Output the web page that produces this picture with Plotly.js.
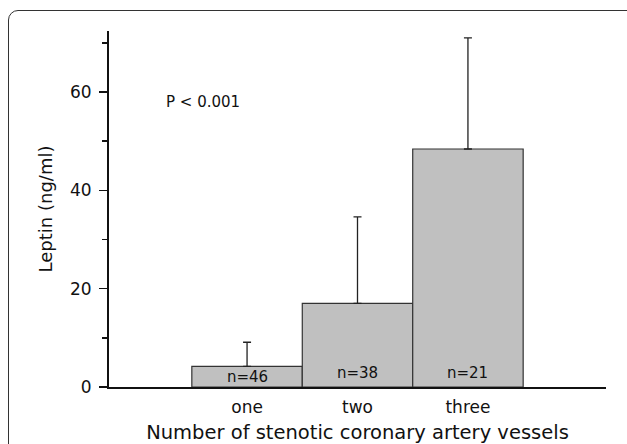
<!DOCTYPE html>
<html><head><meta charset="utf-8">
<script src="https://cdn.plot.ly/plotly-3.0.1.min.js"></script>
<style>
html,body{margin:0;padding:0;background:#fff;overflow:hidden;}
#wrap{position:relative;width:627px;height:444px;overflow:hidden;}
#chart{width:627px;height:444px;}
#frame{position:absolute;left:8px;top:10px;width:660px;height:480px;border:1.6px solid #333;border-radius:10px;pointer-events:none;box-sizing:border-box;}
</style>
</head><body>
<div id="wrap"><div id="chart"></div><div id="frame"></div></div>
<script>
const categories = ["one", "two", "three"];
const means = [4.2, 17.0, 48.4];
const sdUpper = [4.9, 17.6, 22.6];
const sdLower = [0, 0, 0];
const sampleLabels = ["n=46", "n=38", "n=21"];
const sampleLabelY = [2.1, 2.9, 2.9];
const yTickVals = [0, 20, 40, 60];
const yMinorVals = [10, 30, 50, 70];
const pText = "P < 0.001";

const FONT = "DejaVu Sans, Arial, sans-serif";

const trace = {
  type: "bar",
  x: categories,
  y: means,
  width: 1,
  marker: {color: "#c0c0c0", line: {color: "#333", width: 1.2}},
  error_y: {type: "data", symmetric: false, array: sdUpper, arrayminus: sdLower,
            color: "#222", thickness: 1.3, width: 4},
  hoverinfo: "none"
};

const annotations = categories.map((c, i) => ({
  x: c, y: sampleLabelY[i], xref: "x", yref: "y", text: sampleLabels[i],
  showarrow: false, xanchor: "center", yanchor: "middle",
  font: {family: FONT, size: 15, color: "#111"}
}));
annotations.push({
  x: -0.75, y: 58, xref: "x", yref: "y", text: pText, showarrow: false,
  xanchor: "left", yanchor: "middle", font: {family: FONT, size: 15, color: "#111"}
});

const layout = {
  width: 627, height: 444,
  margin: {l: 109, r: 21, t: 31, b: 57, pad: 0},
  paper_bgcolor: "#fff", plot_bgcolor: "#fff",
  showlegend: false,
  bargap: 0,
  font: {family: FONT, size: 17, color: "#111"},
  xaxis: {
    type: "category", range: [-1.25, 3.25],
    showline: true, linecolor: "#111", linewidth: 2,
    ticks: "", showgrid: false, zeroline: false,
    tickfont: {family: FONT, size: 17, color: "#111"},
    ticklabelstandoff: 4,
    title: {text: "Number of stenotic coronary artery vessels", standoff: 9,
            font: {family: FONT, size: 19.5, color: "#111"}}
  },
  yaxis: {
    range: [0, 72.4],
    showline: true, linecolor: "#111", linewidth: 2,
    ticks: "outside", ticklen: 8, tickwidth: 1.5, tickcolor: "#111",
    tickvals: yTickVals,
    minor: {tickvals: yMinorVals, ticks: "outside", ticklen: 5, tickwidth: 1.5, tickcolor: "#111", showgrid: false},
    showgrid: false, zeroline: false,
    tickfont: {family: FONT, size: 17, color: "#111"},
    ticklabelstandoff: 4,
    title: {text: "Leptin (ng/ml)", standoff: 13,
            font: {family: FONT, size: 18, color: "#111"}}
  },
  annotations: annotations
};

Plotly.newPlot("chart", [trace], layout, {staticPlot: true, displayModeBar: false});
</script>
</body></html>
